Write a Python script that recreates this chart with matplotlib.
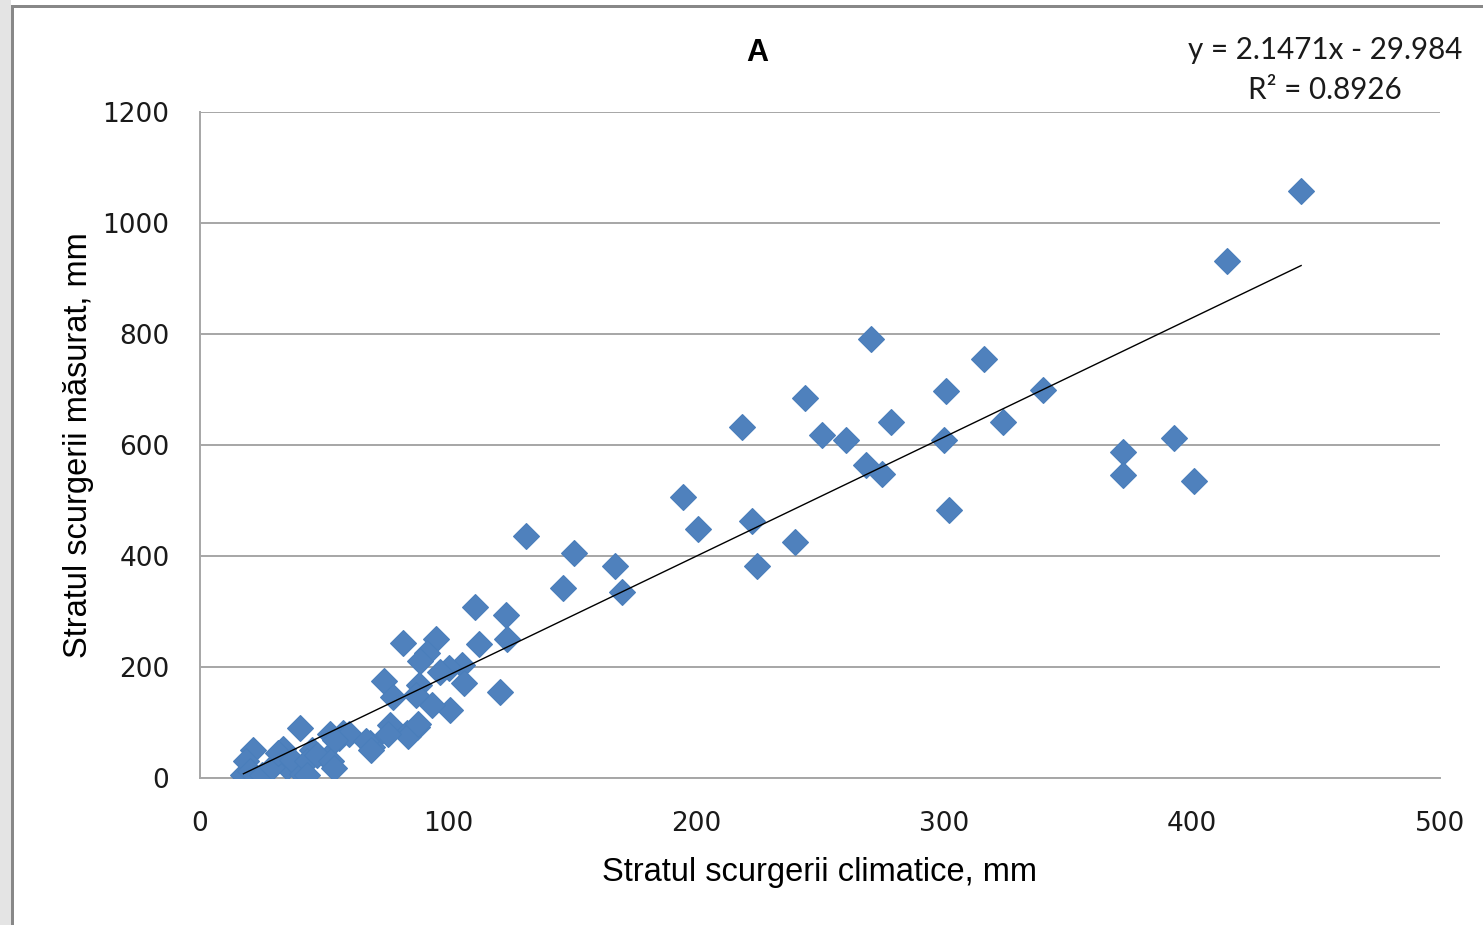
import matplotlib
matplotlib.use("Agg")
import matplotlib.pyplot as plt
import numpy as np
from matplotlib.patches import Rectangle

# (stratul climatic, stratul masurat), mm
x_clim = [444, 414, 270.6, 316, 340, 301, 244, 218.5, 251, 260.5,
          278.6, 323.8, 300, 392.7, 372, 372, 400.8, 268.5, 275, 302,
          194.8, 201, 222.6, 224.6, 240, 131.5, 150.8, 146.4, 167.3, 170,
          111, 123.4, 112.5, 123.8, 121, 95, 82, 91.5, 88.7, 105.6,
          100.4, 96.8, 106.5, 101, 93.5, 74, 78, 88.5, 87,
          68.5, 76.6, 83.3, 87.4, 40.3, 52.4, 57.7, 69.4, 84, 21.4,
          33.5, 41.5, 51.2, 17.5, 35, 45, 18.5, 20, 25, 29,
          31.5, 37, 41, 43, 47, 53, 54, 56, 60, 67,
          69, 76, 88, 54.4, 43]
y_mas = [1058, 931, 791, 755, 699, 697, 685, 632, 618, 609,
         641, 641, 609, 613, 587, 546, 535, 564, 548, 483,
         506, 449, 463, 382, 425, 436, 405, 342, 382, 335,
         308, 294, 241, 250, 155, 250, 243, 225, 210, 204,
         198, 191, 171, 122, 131, 175, 146, 168, 150,
         63, 95, 81, 92, 90, 80, 81, 56, 76, 50,
         52, 23, 36, 5, 20, 50, 30, 12, 5, 20,
         45, 32, 8, 30, 42, 30, 18, 72, 80, 66,
         50, 80, 98, 68, 5]

# linia de tendinta (Excel)
panta = 2.1471
interceptie = -29.984
r2 = 0.8926

x_ticks = [0, 100, 200, 300, 400, 500]
y_ticks = [0, 200, 400, 600, 800, 1000, 1200]

fig = plt.figure(figsize=(14.83, 9.25), dpi=100)

# rama ferestrei
fig.patches.append(Rectangle((0, 0), 11 / 1483, 1, transform=fig.transFigure,
                             facecolor="#e4e4e4", edgecolor="none", zorder=0))
fig.patches.append(Rectangle((11 / 1483, 0), 2.5 / 1483, 1 - 5 / 925, transform=fig.transFigure,
                             facecolor="#888888", edgecolor="none", zorder=1))
fig.patches.append(Rectangle((11 / 1483, 1 - 7.5 / 925), 1 - 11 / 1483, 2.5 / 925,
                             transform=fig.transFigure,
                             facecolor="#888888", edgecolor="none", zorder=1))

ax = fig.add_axes([200 / 1483, 1 - 778 / 925, 1240 / 1483, 666 / 925])

ax.plot(x_clim, y_mas, linestyle="none", marker="D", markersize=13.5,
        markerfacecolor="#4F81BD", markeredgecolor="#4A7EBB", markeredgewidth=0.8, zorder=3)

xl = np.array([min(x_clim), max(x_clim)])
ax.plot(xl, panta * xl + interceptie, color="black", linewidth=1.0, zorder=4)

ax.set_xlim(0, 500)
ax.set_ylim(0, 1200)
ax.set_xticks(x_ticks)
ax.set_yticks(y_ticks)
ax.yaxis.grid(True, color="#a6a6a6", linewidth=1.4)
ax.set_axisbelow(True)
ax.tick_params(length=0, labelsize=19, colors="#1a1a1a", labelfontfamily="DejaVu Sans")
ax.tick_params(axis="y", pad=22)
ax.tick_params(axis="x", pad=24)
for s in ["top", "right"]:
    ax.spines[s].set_visible(False)
for s in ["left", "bottom"]:
    ax.spines[s].set_color("#a6a6a6")
    ax.spines[s].set_linewidth(1.4)

ax.set_xlabel("Stratul scurgerii climatice, mm", fontsize=23.5, family="Liberation Sans", labelpad=14)
ax.set_ylabel("Stratul scurgerii măsurat, mm", fontsize=23.5, family="Liberation Sans", labelpad=6)

fig.text(757 / 1483, 1 - 53 / 925, "A", fontsize=22, fontweight="bold",
         family="Liberation Sans", ha="center", va="center")
fig.text(1325 / 1483, 1 - 50 / 925, f"y = {panta}x - {abs(interceptie)}", fontsize=21.3,
         family="Lato", ha="center", va="center", color="#1a1a1a")
fig.text(1325 / 1483, 1 - 90 / 925, f"R² = {r2}", fontsize=21.3,
         family="Lato", ha="center", va="center", color="#1a1a1a")

fig.savefig("out.png", dpi=100, facecolor="white")
